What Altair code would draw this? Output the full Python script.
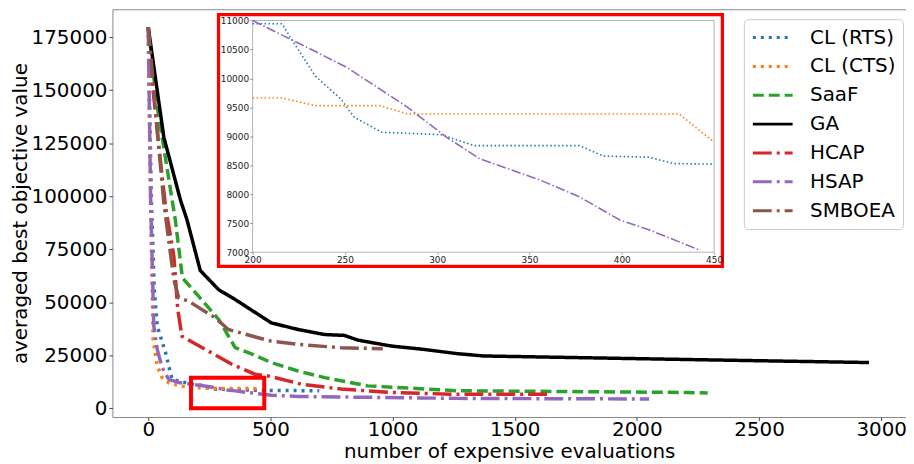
import altair as alt
import pandas as pd

methods = ["CL (RTS)", "CL (CTS)", "SaaF", "GA", "HCAP", "HSAP", "SMBOEA"]
colors = ["#1f77b4", "#ff7f0e", "#2ca02c", "#000000", "#d62728", "#9467bd", "#8c564b"]

rts_x = [0, 13, 25, 37, 71, 84, 98, 138, 200, 216, 220, 234, 248, 255, 270, 302, 320, 377, 390, 415, 428, 450, 560, 700]
rts_y = [179800, 98200, 56000, 38700, 26300, 20000, 13700, 12500, 10943, 10943, 10730, 10040, 9640, 9330, 9070,
         9030, 8840, 8840, 8660, 8640, 8530, 8520, 8400, 8300]

cts_x = [0, 10, 20, 37, 57, 84, 132, 200, 216, 234, 269, 284, 431, 450, 460]
cts_y = [179800, 95000, 32500, 20000, 14500, 12000, 10500, 9661, 9661, 9530, 9530, 9386, 9386, 8900, 8700]

saaf_x = [0, 35, 98, 111, 140, 207, 288, 356, 410, 504, 613, 722, 898, 1264, 2200, 2290]
saaf_y = [179800, 143600, 98200, 88800, 61500, 52800, 42000, 28600, 26300, 21600, 17600, 14500, 10600, 8300, 7500, 7200]

ga_x = [0, 64, 132, 159, 213, 288, 356, 504, 613, 722, 803, 857, 993, 1128, 1264, 1373, 1969, 2374, 2950]
ga_y = [179800, 127800, 98200, 88800, 65000, 56000, 51300, 40300, 37200, 34800, 34400, 32200, 29400, 27800,
        25800, 24700, 23500, 22700, 21600]

hcap_x = [0, 20, 44, 71, 105, 121, 138, 234, 342, 437, 491, 626, 789, 993, 1237, 1650]
hcap_y = [179800, 150000, 123000, 95000, 71600, 46600, 34000, 27800, 20800, 16100, 15300, 11400, 9100, 7500, 6700, 6700]

hsap_x = [0, 10, 16, 23, 37, 57, 84, 125, 200, 217, 230, 251, 269, 284, 305, 323, 356, 377, 399, 415, 442, 450,
          504, 613, 1264, 2050]
hsap_y = [179800, 98200, 70000, 38700, 27800, 19200, 13700, 12200, 11000, 10730, 10530, 10190, 9815, 9500, 8986,
          8614, 8242, 7956, 7555, 7383, 7040, 6926, 6200, 5600, 4700, 4400]

smb_x = [0, 16, 37, 64, 105, 125, 166, 274, 328, 450, 504, 613, 654, 789, 960]
smb_y = [179800, 159100, 131000, 96800, 60700, 52100, 50500, 42700, 37200, 33300, 31700, 30200, 29800, 28600, 28100]

x_ticks = [0, 500, 1000, 1500, 2000, 2500, 3000]
y_ticks = [0, 25000, 50000, 75000, 100000, 125000, 150000, 175000]
inset_x_ticks = [200, 250, 300, 350, 400, 450]
inset_y_ticks = [7000, 7500, 8000, 8500, 9000, 9500, 10000, 10500, 11000]

# zoomed region marked in the main plot, and the inset window (data units)
zoom_box = {"x1": [175], "x2": [475], "y1": [0], "y2": [14400]}
inset_frame = {"x1": [200], "x2": [450], "y1": [7000], "y2": [11000]}
inset_border = {"x1": [181.5], "x2": [454.5], "y1": [6755], "y2": [11103]}

series = [(rts_x, rts_y), (cts_x, cts_y), (saaf_x, saaf_y), (ga_x, ga_y),
          (hcap_x, hcap_y), (hsap_x, hsap_y), (smb_x, smb_y)]
rows = []
for name, (xs, ys) in zip(methods, series):
    for i, (xv, yv) in enumerate(zip(xs, ys)):
        rows.append({"method": name, "evals": xv, "value": yv, "order": i})
df = pd.DataFrame(rows)

FONT = "DejaVu Sans"
dash_main = [[3, 5], [3, 5], [11, 5], [1, 0], [19, 5, 3, 5], [19, 5, 3, 5], [19, 5, 3, 5]]
dash_inset = [[1.5, 2.5], [1.5, 2.5], [5.5, 2.5], [1, 0], [9.6, 2.4, 1.5, 2.4], [9.6, 2.4, 1.5, 2.4], [9.6, 2.4, 1.5, 2.4]]

main_x_scale = alt.Scale(domain=[-146.5, 3101.5], nice=False, zero=False)
main_y_scale = alt.Scale(domain=[-4080, 188200], nice=False, zero=False)

legend = alt.Legend(
    orient="none", legendX=635, legendY=10, title=None,
    symbolType="stroke", symbolSize=1600, symbolStrokeWidth=3,
    labelFontSize=20, labelFont=FONT, labelColor="black", labelOffset=16,
    padding=7.5, rowPadding=7, clipHeight=22, fillColor="white", strokeColor="#cccccc",
    cornerRadius=4, zindex=2,
)

main_lines = alt.Chart(df).mark_line(strokeWidth=3.5, strokeCap="butt").encode(
    x=alt.X("evals:Q", scale=main_x_scale,
            axis=alt.Axis(values=x_ticks, format="d", title="number of expensive evaluations",
                          labelFontSize=20, titleFontSize=20, labelFont=FONT, titleFont=FONT,
                          titleFontWeight="normal", labelColor="black", titleColor="black",
                          tickColor="#444", tickSize=3.5, labelPadding=-0.5, titlePadding=2,
                          domain=False, grid=False, labelFlush=False)),
    y=alt.Y("value:Q", scale=main_y_scale,
            axis=alt.Axis(values=y_ticks, format="d", title="averaged best objective value",
                          labelFontSize=20, titleFontSize=20, labelFont=FONT, titleFont=FONT,
                          titleFontWeight="normal", labelColor="black", titleColor="black",
                          tickColor="#444", tickSize=3.5, labelPadding=2, titlePadding=1,
                          domain=False, grid=False, labelFlush=False)),
    color=alt.Color("method:N", scale=alt.Scale(domain=methods, range=colors), legend=legend),
    strokeDash=alt.StrokeDash("method:N", scale=alt.Scale(domain=methods, range=dash_main), legend=legend),
    order=alt.Order("order:Q"),
)

zoom_rect = alt.Chart(pd.DataFrame(zoom_box)).mark_rect(
    fillOpacity=0, stroke="red", strokeWidth=4
).encode(
    x=alt.X("x1:Q", scale=main_x_scale), x2="x2:Q",
    y=alt.Y("y1:Q", scale=main_y_scale), y2="y2:Q",
)

main_layer = alt.layer(main_lines, zoom_rect)

in_x_scale = alt.Scale(domain=[200, 450], range=[141, 605], nice=False, zero=False)
in_y_scale = alt.Scale(domain=[7000, 11000], range=[244.3, 11.3], nice=False, zero=False)

in_x_axis = alt.Axis(orient="bottom", offset=-165.7, values=inset_x_ticks, format="d", title=None,
                     labelFontSize=9, labelFont=FONT, labelColor="#222", tickColor="#999", tickSize=2,
                     labelPadding=1, domain=False, grid=False, labelFlush=False, labelOverlap=False, zindex=1)
in_y_axis = alt.Axis(orient="left", offset=-141, values=inset_y_ticks, format="d", title=None,
                     labelFontSize=9, labelFont=FONT, labelColor="#222", tickColor="#999", tickSize=3,
                     labelPadding=1, domain=False, grid=False, labelFlush=False, labelOverlap=False, zindex=1)

border = alt.Chart(pd.DataFrame(inset_border)).mark_rect(
    fill="white", stroke="red", strokeWidth=3.3
).encode(
    x=alt.X("x1:Q", scale=in_x_scale, axis=in_x_axis), x2="x2:Q",
    y=alt.Y("y1:Q", scale=in_y_scale, axis=in_y_axis), y2="y2:Q",
)

frame = alt.Chart(pd.DataFrame(inset_frame)).mark_rect(
    fillOpacity=0, stroke="#b5b5b5", strokeWidth=1
).encode(
    x=alt.X("x1:Q", scale=in_x_scale), x2="x2:Q",
    y=alt.Y("y1:Q", scale=in_y_scale), y2="y2:Q",
)

inset_lines = alt.Chart(df).transform_filter(
    "datum.evals >= 200 && datum.evals <= 450 && datum.value >= 7000 && datum.value <= 11000"
).mark_line(strokeWidth=1.6, strokeCap="butt").encode(
    x=alt.X("evals:Q", scale=in_x_scale),
    y=alt.Y("value:Q", scale=in_y_scale),
    color=alt.Color("method:N", scale=alt.Scale(domain=methods, range=colors), legend=None),
    strokeDash=alt.StrokeDash("method:N", scale=alt.Scale(domain=methods, range=dash_inset), legend=None),
    order=alt.Order("order:Q"),
)

inset_layer = alt.layer(border, frame, inset_lines)

chart = alt.layer(main_layer, inset_layer).resolve_scale(
    x="independent", y="independent", color="independent", strokeDash="independent"
).properties(
    width=798, height=410,
    padding={"left": 105, "top": 0, "right": 0, "bottom": 48},
    autosize=alt.AutoSizeParams(type="none"),
).configure_view(stroke="#888", strokeWidth=1)

chart.save("out.html", embed_options={"renderer": "svg", "actions": False})
